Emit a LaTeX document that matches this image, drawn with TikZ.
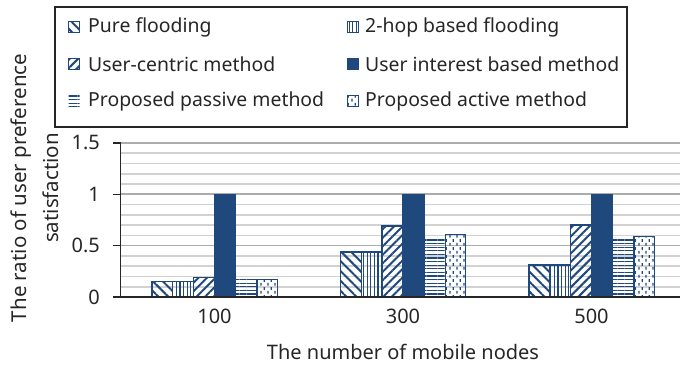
\documentclass[tikz,border=0pt]{standalone}
\usepackage{fontspec}
\setmainfont{Noto Sans}
\usetikzlibrary{patterns.meta}
\definecolor{barblue}{RGB}{31,73,125}

\tikzdeclarepattern{
  name=vdashes, type=uncolored,
  bounding box={(0pt,0pt) and (7pt,8pt)},
  tile size={(7pt,8pt)},
  code={
    \fill (1.6pt,0.5pt) rectangle (2.9pt,3.5pt);
    \fill (5.1pt,4.5pt) rectangle (6.4pt,7.5pt);
  }
}

\tikzset{
  bar/.style={draw=barblue, line width=1.4pt},
  purebar/.style={bar, fill=white, pattern={Lines[angle=-45, distance=7pt, line width=2pt]}, pattern color=barblue},
  hopbar/.style={bar, fill=white, pattern={Lines[angle=90, distance=3.6pt, line width=1.1pt]}, pattern color=barblue},
  centricbar/.style={bar, fill=white, pattern={Lines[angle=45, distance=6pt, line width=2pt]}, pattern color=barblue},
  interestbar/.style={bar, fill=barblue},
  passivebar/.style={pattern={Lines[angle=0, distance=3.6pt, line width=1.1pt]}, pattern color=barblue},
  activebar/.style={bar, fill=white, pattern=vdashes, pattern color=barblue},
  lbl/.style={inner sep=0pt, text=black!85},
  legtext/.style={lbl, anchor=west, font=\fontsize{19.4}{23}\selectfont},
}

\begin{document}
\begin{tikzpicture}[x=1pt, y=1pt, font=\fontsize{20}{24}\selectfont]
  \useasboundingbox (0,0) rectangle (680,366);
  \coordinate (orig) at (120.7,69);

  % grid
  \foreach \v in {1,...,15} {
    \draw[gray!35, line width=1.6pt] (120.7,{69+\v*10.27}) -- (680,{69+\v*10.27});
  }
  \foreach \v in {5,10,15} {
    \draw[gray!65, line width=1.6pt] (120.7,{69+\v*10.27}) -- (680,{69+\v*10.27});
  }

  % bars
  \foreach \xc/\va/\vb/\vc/\vd/\ve/\vf in {214.5/.15/.15/.19/1/.17/.17, 403/.44/.44/.69/1/.58/.61, 591.5/.31/.31/.70/1/.58/.59} {
    \draw[purebar] ({\xc-62.7},69) rectangle ++(20.9,{\va*102.7});
    \draw[hopbar] ({\xc-41.8},69) rectangle ++(20.9,{\vb*102.7});
    \draw[centricbar] ({\xc-20.9},69) rectangle ++(20.9,{\vc*102.7});
    \draw[interestbar] ({\xc},69) rectangle ++(20.9,{\vd*102.7});
    \fill[passivebar] ({\xc+20.9},69) rectangle ++(20.9,{\ve*102.7});
    \draw[activebar] ({\xc+42.4},69) rectangle ++(20.3,{\vf*102.7});
  }

  % axes
  \draw[black!85, line width=1.3pt] (113,69) -- (680,69);
  \draw[black!85, line width=1.3pt] (orig) -- (120.7,223.3);
  \foreach \v in {0.5,1,1.5} {
    \draw[black!85, line width=1.3pt] (113,{69+\v*102.7}) -- (120.7,{69+\v*102.7});
  }

  \node[lbl, anchor=east] (y0) at (100,69) {0};
  \node[lbl, anchor=east] (y05) at (100,120.4) {0.5};
  \node[lbl, anchor=east] (y1) at (100,171.7) {1};
  \node[lbl, anchor=east] (y15) at (100,223.3) {1.5};

  \node[lbl] (x100) at (214.5,50) {100};
  \node[lbl] (x300) at (403,50) {300};
  \node[lbl] (x500) at (591.5,50) {500};

  \node[lbl] (xtitle) at (403,14) {The number of mobile nodes};
  \node[lbl, rotate=90, align=center, font=\fontsize{20.5}{32}\selectfont] (ytitle) at (35,178) {The ratio of user preference\\satisfaction};

  % legend
  \draw[black!85, line width=1.3pt] (55,239) rectangle (627,359);
  \draw[purebar, line width=1pt] (68.5,333.5) rectangle ++(11,11);
  \draw[centricbar, line width=1pt] (68.5,296.5) rectangle ++(11,11);
  \fill[passivebar] (68.5,259.5) rectangle ++(11,11);
  \draw[hopbar, line width=1pt] (347.5,333.5) rectangle ++(11,11);
  \draw[interestbar, line width=1pt] (347.5,296.5) rectangle ++(11,11);
  \draw[activebar, line width=1pt] (347.5,259.5) rectangle ++(11,11);
  \node[legtext] (lg1) at (88,339) {Pure flooding};
  \node[legtext] (lg2) at (88,302) {User-centric method};
  \node[legtext] (lg3) at (88,265) {Proposed passive method};
  \node[legtext] (lg4) at (365,339) {2-hop based flooding};
  \node[legtext] (lg5) at (365,302) {User interest based method};
  \node[legtext] (lg6) at (365,265) {Proposed active method};
\end{tikzpicture}
\end{document}
